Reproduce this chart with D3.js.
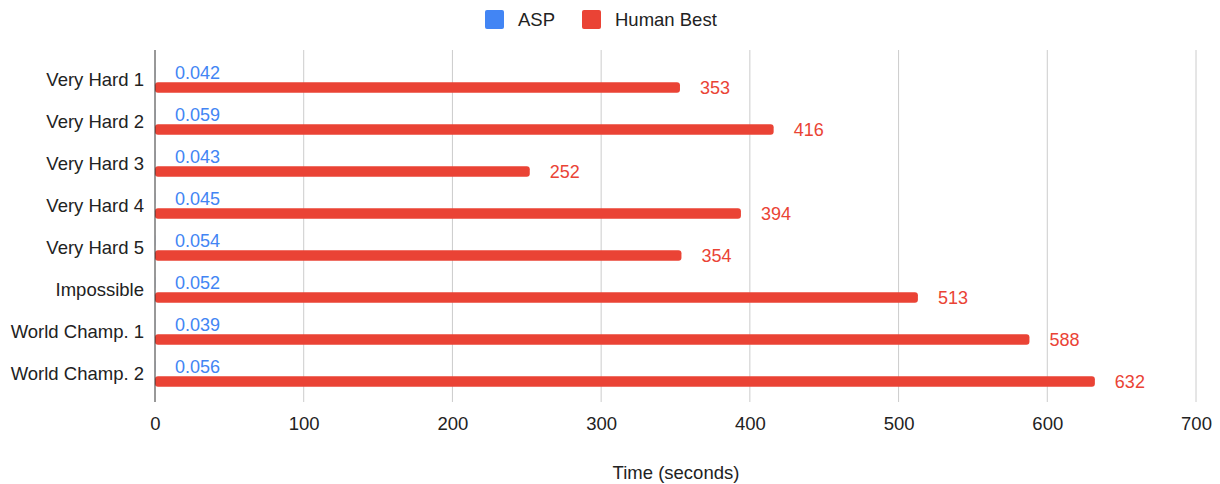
<!DOCTYPE html>
<html>
<head>
<meta charset="utf-8">
<script src="https://cdn.jsdelivr.net/npm/d3@7"></script>
<style>
  body { margin: 0; background: #fff; }
  text { font-family: "Liberation Sans", Arial, sans-serif; }
</style>
</head>
<body>
<svg id="chart" width="1220" height="484"></svg>
<script>
const categories = ["Very Hard 1", "Very Hard 2", "Very Hard 3", "Very Hard 4", "Very Hard 5", "Impossible", "World Champ. 1", "World Champ. 2"];
const aspValues = [0.042, 0.059, 0.043, 0.045, 0.054, 0.052, 0.039, 0.056];
const humanValues = [353, 416, 252, 394, 354, 513, 588, 632];
const seriesNames = ["ASP", "Human Best"];
const xTicks = [0, 100, 200, 300, 400, 500, 600, 700];
const axisTitle = "Time (seconds)";

const colors = { "ASP": "#4285F4", "Human Best": "#EA4335" };
const labelFont = "'Liberation Sans', Arial, sans-serif";
const valueFont = "Roboto, Arial, sans-serif";

const svg = d3.select("#chart");
const plotLeft = 155, plotRight = 1196, plotTop = 50, plotBottom = 402;

const x = d3.scaleLinear().domain([0, 700]).range([plotLeft, plotRight]);
const y = d3.scaleBand().domain(categories).range([59, 395]);
const sub = d3.scaleBand().domain(seriesNames).range([0, y.bandwidth()]).paddingInner(0.3).paddingOuter(0.55);

// grid
svg.append("g").selectAll("line").data(xTicks.filter(d => d > 0)).join("line")
  .attr("x1", d => x(d)).attr("x2", d => x(d))
  .attr("y1", plotTop).attr("y2", plotBottom)
  .attr("stroke", "#ccc").attr("stroke-width", 1);

// x axis tick labels
const xAxis = d3.axisBottom(x).tickValues(xTicks).tickSize(0).tickPadding(0);
const gx = svg.append("g").attr("transform", `translate(0,${plotBottom})`).call(xAxis);
gx.select(".domain").remove();
gx.selectAll("text").attr("dy", 0).attr("y", 28)
  .attr("font-size", 18.5).attr("fill", "#222").attr("font-family", labelFont);

// category labels
const yAxis = d3.axisLeft(y).tickSize(0).tickPadding(11);
const gy = svg.append("g").attr("transform", `translate(${plotLeft},0)`).call(yAxis);
gy.select(".domain").remove();
gy.selectAll("text").attr("font-size", 18.5).attr("fill", "#222").attr("font-family", labelFont);

const rows = categories.map((c, i) => ({ cat: c, values: [
  { s: "ASP", v: aspValues[i] },
  { s: "Human Best", v: humanValues[i] }
]}));

const g = svg.append("g").selectAll("g").data(rows).join("g")
  .attr("transform", d => `translate(0,${y(d.cat)})`);

// bars
g.selectAll("rect").data(d => d.values).join("rect")
  .attr("x", x(0))
  .attr("y", d => sub(d.s))
  .attr("width", d => Math.max(0, x(d.v) - x(0)))
  .attr("height", sub.bandwidth())
  .attr("rx", d => Math.min(3, (x(d.v) - x(0)) / 2))
  .attr("fill", d => colors[d.s]);

// value labels
g.selectAll("text.val").data(d => d.values).join("text")
  .attr("class", "val")
  .attr("x", d => x(d.v) + 20)
  .attr("y", d => sub(d.s) + sub.bandwidth() / 2)
  .attr("dy", "0.35em")
  .attr("font-size", 18)
  .attr("font-family", valueFont)
  .attr("fill", d => colors[d.s])
  .attr("stroke", "#fff").attr("stroke-width", 3).attr("paint-order", "stroke")
  .attr("stroke-linejoin", "round")
  .text(d => d.v);

// baseline axis
svg.append("line").attr("x1", plotLeft).attr("x2", plotLeft).attr("y1", plotTop).attr("y2", plotBottom)
  .attr("stroke", "#333").attr("stroke-width", 1);

// axis title
svg.append("text").attr("x", 676).attr("y", 479)
  .attr("text-anchor", "middle").attr("font-size", 18.5).attr("fill", "#222")
  .text(axisTitle);

// legend
const legend = svg.append("g");
const legendItems = [{ s: "ASP", x: 485 }, { s: "Human Best", x: 582 }];
legend.selectAll("rect").data(legendItems).join("rect")
  .attr("x", d => d.x).attr("y", 10).attr("width", 19).attr("height", 19).attr("rx", 2)
  .attr("fill", d => colors[d.s]);
legend.selectAll("text").data(legendItems).join("text")
  .attr("x", d => d.x + 33).attr("y", 19.5).attr("dy", "0.35em")
  .attr("font-size", 18.5).attr("fill", "#222")
  .text(d => d.s);
</script>
</body>
</html>
